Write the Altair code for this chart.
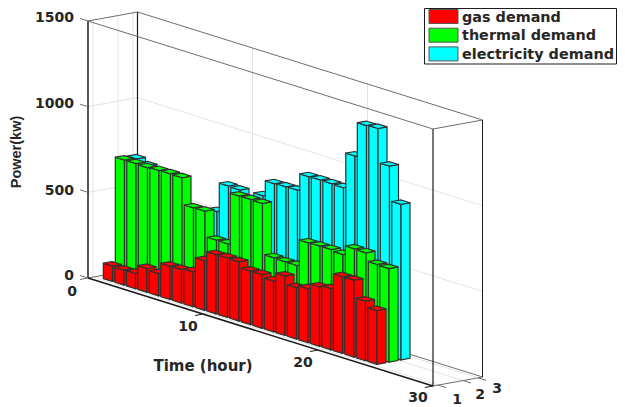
import altair as alt

hours = list(range(1, 25))
gas = [90, 87, 89, 139, 130, 195, 196, 204, 290, 346, 348, 346, 313, 314, 297, 347, 300, 315, 347, 358, 448, 449, 348, 314]
thermal = [696, 696, 693, 698, 700, 698, 543, 545, 397, 396, 696, 697, 695, 399, 396, 396, 549, 551, 552, 544, 598, 596, 549, 546]
electricity = [690, 670, 500, 500, 500, 500, 500, 530, 700, 697, 600, 706, 797, 800, 802, 901, 903, 902, 900, 1106, 1305, 1309, 1110, 908]
series = [("electricity demand", electricity, "#00FFFF", 32.4),
          ("thermal demand", thermal, "#00FF00", 20.4),
          ("gas demand", gas, "#FF0000", 8.4)]
legend_names = ["gas demand", "thermal demand", "electricity demand"]
legend_colors = ["#FF0000", "#00FF00", "#00FFFF"]
z_ticks = [0, 500, 1000, 1500]
t_ticks = [0, 10, 20, 30]
depth_ticks = [("1", 5), ("2", 30), ("3", 45)]

# oblique 3D view: time, depth, power -> page position
ORIGIN = (88.0, 278.0)
T_VEC = (11.5, 3.6)
D_VEC = (1.0, -0.182)
Z_PX = 257.0 / 1500
DEPTH = 49.5
BAR_T = 0.8
BAR_D = 9.0


def P(t, d, z=0.0):
    return [ORIGIN[0] + t * T_VEC[0] + d * D_VEC[0],
            ORIGIN[1] + t * T_VEC[1] + d * D_VEC[1] - z * Z_PX]


def poly(pts, fill, stroke="#303030", sw=1.2):
    return {"type": "Feature", "properties": {"fill": fill, "stroke": stroke, "sw": sw},
            "geometry": {"type": "Polygon", "coordinates": [pts + [pts[0]]]}}


def line(a, b, stroke, sw=1.0):
    return {"type": "Feature", "properties": {"fill": "none", "stroke": stroke, "sw": sw},
            "geometry": {"type": "LineString", "coordinates": [a, b]}}


GRID = "#e4e4e4"
EDGE = "#6e6e6e"
DARK = "#1c1c1c"
back = []
for z in z_ticks[1:3]:
    back.append(line(P(0, 0, z), P(0, DEPTH, z), GRID))
    back.append(line(P(0, DEPTH, z), P(30, DEPTH, z), GRID))
for t in t_ticks[1:3]:
    back.append(line(P(t, DEPTH), P(t, DEPTH, 1500), GRID))
    back.append(line(P(t, 0), P(t, DEPTH), GRID))
for _, d in depth_ticks:
    back.append(line(P(0, d), P(0, d, 1500), GRID))
    back.append(line(P(0, d), P(30, d), GRID))
back += [line(P(0, 0), P(0, DEPTH), EDGE), line(P(0, DEPTH), P(30, DEPTH), EDGE),
         line(P(30, 0), P(30, DEPTH), EDGE),
         line(P(0, 0, 1500), P(0, DEPTH, 1500), EDGE), line(P(0, DEPTH, 1500), P(30, DEPTH, 1500), EDGE),
         line(P(0, DEPTH), P(0, DEPTH, 1500), DARK, 1.2), line(P(0, 0), P(0, 0, 1500), DARK, 1.5)]

bars = []
for name, vals, col, d0 in series:
    for t, v in zip(hours, vals):
        t0, t1, d1 = t - BAR_T / 2, t + BAR_T / 2, d0 + BAR_D
        bars.append(poly([P(t0, d0), P(t1, d0), P(t1, d0, v), P(t0, d0, v)], col))
        bars.append(poly([P(t1, d0), P(t1, d1), P(t1, d1, v), P(t1, d0, v)], col))
        bars.append(poly([P(t0, d0, v), P(t1, d0, v), P(t1, d1, v), P(t0, d1, v)], col))

front = [line(P(0, 0), P(30, 0), DARK, 1.5),
         line(P(30, 0), P(30, 0, 1500), DARK, 1.2),
         line(P(30, DEPTH), P(30, DEPTH, 1500), DARK, 1.0),
         line(P(0, 0, 1500), P(30, 0, 1500), EDGE),
         line(P(30, 0, 1500), P(30, DEPTH, 1500), EDGE)]
for z in z_ticks:
    a = P(0, 0, z)
    front.append(line(a, [a[0] - 8, a[1] - 2.5], EDGE))
for t in t_ticks:
    a = P(t, 0)
    front.append(line(a, [a[0] - 8, a[1] + 1.5], DARK if t else EDGE))
for _, d in depth_ticks:
    a = P(30, d)
    front.append(line(a, [a[0] + 8, a[1] + 2.5], EDGE))

# legend
lg_x, lg_y = 429, 9.5
legend = [poly([[424.5, 8.5], [616.5, 8.5], [616.5, 64], [424.5, 64]], "#ffffff", DARK, 1.0)]
texts = []
WIDE = "DejaVu Sans"
NARROW = "Liberation Sans"
for i, (n, c) in enumerate(zip(legend_names, legend_colors)):
    y = lg_y + i * 18.7
    legend.append(poly([[lg_x, y], [lg_x + 29, y], [lg_x + 29, y + 14], [lg_x, y + 14]], c, "#555555", 1.0))
    texts.append({"lon": 462, "lat": y + 8, "t": n, "size": 14.4, "align": "left", "angle": 0, "font": WIDE})

for z, yy in zip(z_ticks, [276, 191, 104, 18]):
    texts.append({"lon": 74, "lat": yy, "t": str(z), "size": 14, "align": "right", "angle": 0, "font": WIDE})
for t, (xx, yy) in zip(t_ticks, [(72, 292), (188, 327), (303, 363), (418, 398)]):
    texts.append({"lon": xx, "lat": yy, "t": str(t), "size": 14, "align": "center", "angle": 0, "font": WIDE})
for (lab, _), (xx, yy) in zip(depth_ticks, [(457, 400), (480, 395), (497, 389)]):
    texts.append({"lon": xx, "lat": yy, "t": lab, "size": 14, "align": "center", "angle": 0, "font": WIDE})
texts.append({"lon": 203, "lat": 366, "t": "Time (hour)", "size": 15, "align": "center", "angle": 0, "font": WIDE})
texts.append({"lon": 17, "lat": 152, "t": "Power(kw)", "size": 14.5, "align": "center", "angle": 270, "font": NARROW})

proj = dict(type="identity", scale=1, translate=[-8, -8])


def shapes(features):
    return alt.Chart(alt.Data(values=features)).mark_geoshape().encode(
        fill=alt.Fill("properties.fill:N", scale=None),
        stroke=alt.Stroke("properties.stroke:N", scale=None),
        strokeWidth=alt.StrokeWidth("properties.sw:Q", scale=None),
    ).project(**proj)


def text_layer(rows, align, font):
    return alt.Chart(alt.Data(values=rows)).mark_text(
        font=font, fontWeight="bold", color="#262626", align=align, baseline="middle"
    ).encode(
        longitude="lon:Q", latitude="lat:Q", text="t:N",
        size=alt.Size("size:Q", scale=None),
        angle=alt.Angle("angle:Q", scale=None),
    ).project(**proj)


layers = [shapes(back), shapes(bars), shapes(front), shapes(legend)]
for al, fnt in sorted({(r["align"], r["font"]) for r in texts}):
    layers.append(text_layer([r for r in texts if r["align"] == al and r["font"] == fnt], al, fnt))

chart = alt.layer(*layers).properties(
    width=609, height=398, padding=0, autosize=alt.AutoSizeParams(type="none")
).configure_view(stroke=None)
chart.save("out.html", embed_options={"renderer": "svg", "actions": False})
